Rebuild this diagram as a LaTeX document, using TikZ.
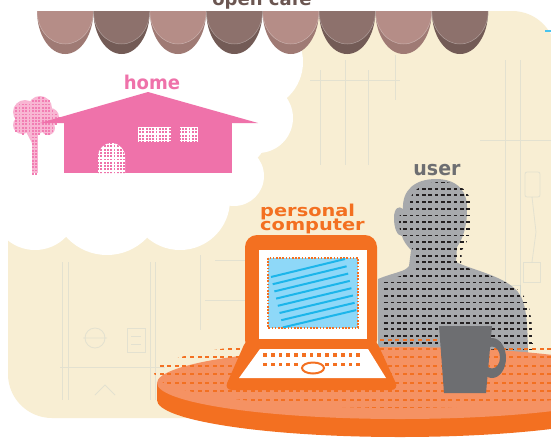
\documentclass[tikz,border=0pt]{standalone}
\usepackage{fontspec}
\newfontfamily\labfont{DejaVu Sans}
\definecolor{cream}{HTML}{F8EED3}
\definecolor{awnA}{HTML}{B58D87}
\definecolor{awnAd}{HTML}{9F7A74}
\definecolor{awnB}{HTML}{8D716C}
\definecolor{awnBd}{HTML}{735B56}
\definecolor{awntext}{HTML}{6B5651}
\definecolor{housepink}{HTML}{EF72AA}
\definecolor{treepink}{HTML}{F8B6D3}
\definecolor{treedot}{HTML}{F27DB3}
\definecolor{pcorange}{HTML}{F37021}
\definecolor{tabletop}{HTML}{F59263}
\definecolor{silh}{HTML}{A7A9AC}
\definecolor{dotdark}{HTML}{231F20}
\definecolor{mugcol}{HTML}{6D6E71}
\definecolor{screenblue}{HTML}{8ED8F8}
\definecolor{lineblue}{HTML}{1CB5EA}
\definecolor{sketch}{HTML}{8FAFC4}
\newcommand{\silhouettepath}{(378,362) -- (378,279)
  .. controls (395,272) and (405,272) .. (409,266)
  -- (411,250)
  .. controls (406,245) and (403,240) .. (402,236)
  .. controls (397,236) and (394,228) .. (394,218)
  .. controls (394,208) and (399,205) .. (403,209)
  .. controls (402,190) and (415,179) .. (436,179)
  .. controls (458,179) and (468,192) .. (467,210)
  .. controls (467,228) and (462,240) .. (457,247)
  -- (456,262)
  .. controls (472,270) and (505,276) .. (518,292)
  .. controls (526,302) and (528,320) .. (528,362)
  -- cycle}
\newcommand{\doorpath}{(98,173) -- (98,156.5) arc[start angle=180,end angle=360,radius=13.5] -- (125,173) -- cycle}
\begin{document}
\begin{tikzpicture}[x=1pt,y=-1pt,
  label/.style={font=\labfont\bfseries, inner sep=0pt},
  sketchline/.style={draw=sketch, line width=0.8pt, opacity=0.2},
  cloudpart/.style={fill=white}]
\useasboundingbox (0,0) rectangle (551,437);
\fill[white] (0,0) rectangle (551,437);

% cream backdrop panel
\fill[cream, rounded corners=44pt] (8,11) rectangle (556,418);
\draw[lineblue!80, line width=1.5pt] (545,31) -- (551,31);

% faint blueprint sketches on the panel
\begin{scope}
  \path[sketchline] (62,262) -- (62,400) (68,262) -- (68,400)
    (60,367) -- (165,367) (150,262) -- (150,400) (155,262) -- (155,400);
  \path[sketchline] (95,338) circle[radius=10] (83,338) -- (107,338);
  \path[sketchline] (127,328) rectangle (145,352) (131,336) -- (141,336) (131,344) -- (141,344);
  \path[sketchline] (200,255) -- (200,330) (215,260) -- (245,260) (205,300) -- (245,300);
  \path[sketchline] (95,395) -- (105,385) -- (115,395);
  \path[sketchline] (320,70) -- (320,165) (345,60) -- (345,165) (368,70) -- (368,165)
    (310,80) -- (400,80) (395,55) -- (395,100);
  \path[sketchline] (505,60) -- (505,330) (520,60) -- (520,330) (480,140) -- (551,140);
  \path[sketchline, rounded corners=2pt] (525,172) rectangle (540,197);
  \path[sketchline] (532,197) -- (536,232) -- (532,262);
  \path[sketchline] (523,262) rectangle (540,282);
  \path[sketchline] (450,285) rectangle (520,320);
\end{scope}

% cloud, built from overlapping pieces
\fill[cloudpart] (0,0) rectangle (232,200);
\foreach \px/\py/\rad in {255/62/48, 258/118/35, 240/140/25, 234/176/30,
                          35/207/43, 107/200/55, 180/200/50} {
  \fill[cloudpart] (\px,\py) circle[radius=\rad];
}

% awning
\foreach \i in {0,2,4,6} {
  \pgfmathsetmacro\cx{65.2+56.4*\i}
  \fill[awnAd] (\cx-28.2,11) arc[start angle=180,end angle=0,x radius=28.2,y radius=43] -- cycle;
  \fill[awnA] (\cx-28.2,11) arc[start angle=180,end angle=0,x radius=28.2,y radius=33] -- cycle;
  \draw[white, opacity=.35, line width=.5pt] (\cx-28.2,11) arc[start angle=180,end angle=0,x radius=28.2,y radius=33];
}
\foreach \i in {1,3,5,7} {
  \pgfmathsetmacro\cx{65.2+56.4*\i}
  \fill[awnBd] (\cx-28.2,11) arc[start angle=180,end angle=0,x radius=28.2,y radius=43] -- cycle;
  \fill[awnB] (\cx-28.2,11) arc[start angle=180,end angle=0,x radius=28.2,y radius=33] -- cycle;
  \draw[white, opacity=.35, line width=.5pt] (\cx-28.2,11) arc[start angle=180,end angle=0,x radius=28.2,y radius=33];
}
\node[label, text=awntext, anchor=base, font=\labfont\bfseries\fontsize{18}{18}\selectfont] (opencafe) at (262,5) {open cafe};

% tree: crown and trunk, each a light pink halftone
\foreach \px/\py/\rad in {25/112/12, 40/108/12, 50/117/9, 22/125/9, 35/125/10, 48/128/7} {
  \fill[treepink] (\px,\py) circle[radius=\rad];
}
\fill[treepink] (32,127) rectangle (38,173);
\fill[treepink] (22,124) -- (26,122) -- (36,140) -- (33,145) -- cycle;
\begin{scope}
  \clip (10,95) rectangle (60,175);
  \foreach \r in {0,...,24} {
    \foreach \c in {0,...,14} {
      \pgfmathsetmacro\dx{12+3.3*\c}
      \pgfmathsetmacro\dy{97+3.3*\r}
      \pgfmathparse{or(or(or((\dx-25)^2+(\dy-112)^2<130,(\dx-40)^2+(\dy-108)^2<130),
        or((\dx-50)^2+(\dy-117)^2<70,(\dx-22)^2+(\dy-125)^2<70)),
        or(or((\dx-35)^2+(\dy-125)^2<90,(\dx-48)^2+(\dy-128)^2<40),
        and(and(\dx>31,\dx<37),\dy>126)))}
      \ifnum\pgfmathresult=1
        \fill[treedot] (\dx,\dy) rectangle ++(1.8,1.8);
      \fi
    }
  }
\end{scope}

% house
\fill[housepink] (40,123) -- (148,92) -- (258,123) -- cycle;
\fill[housepink] (64,122) rectangle (232,173);
\fill[white] \doorpath;
\fill[white] (138,127) rectangle (171,142);
\fill[white] (180,127) rectangle (198,142);
\begin{scope}
  \clip \doorpath;
  \foreach \r in {0,...,9} {
    \foreach \c in {0,...,8} {
      \fill[housepink] (97+3.3*\c, 142+3.3*\r) rectangle ++(1.9,1.9);
    }
  }
\end{scope}
\begin{scope}
  \clip (138,127) rectangle (198,142);
  \foreach \r in {0,...,4} {
    \foreach \c in {0,...,18} {
      \fill[housepink] (139+3.3*\c, 128+3.3*\r) rectangle ++(1.9,1.9);
    }
  }
\end{scope}
\fill[housepink] (171,127) rectangle (180,142);
\node[label, text=housepink, anchor=base, xscale=0.95, font=\labfont\bfseries\fontsize{19}{19}\selectfont] (home) at (152,89) {home};

% user silhouette with halftone
\fill[silh] \silhouettepath;
\begin{scope}
  \clip[shift={(5,3)}] \silhouettepath;
  \foreach \r in {0,...,27} {
    \foreach \c in {0,...,24} {
      \fill[dotdark] (378+6.3*\c, 181+6.7*\r) rectangle ++(3.6,1.8);
    }
  }
\end{scope}
\node[label, text=mugcol, anchor=base, xscale=0.95, font=\labfont\bfseries\fontsize{20}{20}\selectfont] (user) at (437,175) {user};

% table
\fill[pcorange] (400,400) ellipse[x radius=243, y radius=37];
\fill[pcorange] (157,383) rectangle (643,400);
\fill[tabletop] (400,383) ellipse[x radius=243, y radius=36];
\begin{scope}
  \clip (398,373) ellipse[x radius=244, y radius=35];
  \foreach \r in {0,...,11} {
    \foreach \c in {0,...,53} {
      \fill[pcorange] (152+7.6*\c, 339+8.5*\r) rectangle ++(4,2);
    }
  }
\end{scope}

% laptop
\fill[pcorange, rounded corners=12pt] (245,235) rectangle (377,352);
\fill[pcorange, rounded corners=8pt] (247,338) -- (375,338) -- (399,390) -- (224,390) -- cycle;
\fill[white] (259,250) rectangle (367,339);
\fill[screenblue] (268,258) rectangle (358,328);
\draw[pcorange, line width=2pt, dash pattern=on 1.6pt off 1.6pt] (268,258) rectangle (358,328);
\foreach \k in {0,...,7} {
  \draw[lineblue, line width=2pt] (271+1.7*\k, 277+7.2*\k) -- (345+1.6*\k, 259+7.3*\k);
}
\fill[white] (260,349) -- (368,349) -- (386,378) -- (239,378) -- cycle;
\foreach \c in {0,...,12} {
  \fill[pcorange] (263+7.78*\c, 353.2) rectangle ++(3.8,3.6);
}
\foreach \c in {0,...,4,8,9,10,11,12} {
  \fill[pcorange] (263+7.78*\c, 362.5) rectangle ++(3.8,3.6);
}
\draw[pcorange, line width=2pt, fill=white] (313,368) ellipse[x radius=11, y radius=5.5];
\node[label, text=pcorange, anchor=base west, xscale=1.18, font=\labfont\bfseries\fontsize{16.4}{16.4}\selectfont] (pc1) at (260,216.5) {personal};
\node[label, text=pcorange, anchor=base west, xscale=1.18, font=\labfont\bfseries\fontsize{16.4}{16.4}\selectfont] (pc2) at (260,230.5) {computer};

% mug
\fill[mugcol, even odd rule] (492,358) ellipse[x radius=14, y radius=20]
  (492,357.5) ellipse[x radius=8, y radius=11];
\fill[mugcol] (439,326) -- (492,326) -- (486,393) -- (444,393) -- cycle;
\end{tikzpicture}
\end{document}
